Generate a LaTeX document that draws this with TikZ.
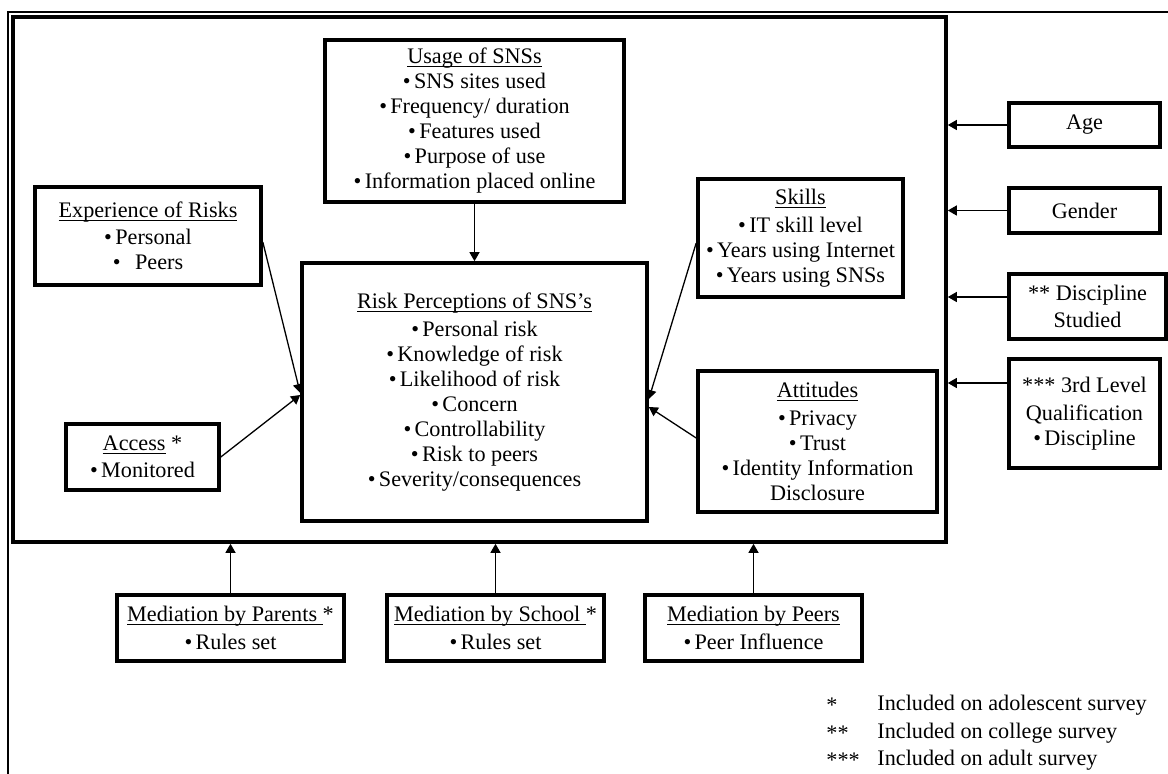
\documentclass[tikz,border=0pt]{standalone}
\usepackage{fontspec}
\setmainfont{Liberation Serif}
\usetikzlibrary{arrows.meta,calc}
\newcommand\ulx[1]{\setbox0\hbox{#1}\rlap{\rule[-1.6pt]{\wd0}{0.5pt}}\box0\relax}
\newcommand\bu{\textbullet\hspace{0.15em}}
\begin{document}
\begin{tikzpicture}[x=0.5pt,y=-0.5pt,
  bx/.style={draw, line width=1.8pt, inner sep=0pt, align=center,
    font=\fontsize{11.1}{12.5}\selectfont},
  arr/.style={line width=0.65pt, -{Triangle[length=4.5pt,width=5pt]}},
  lg/.style={anchor=west, inner sep=0pt, font=\fontsize{11.1}{12.5}\selectfont}]
\useasboundingbox (0,0) rectangle (1168,774);
% thin outer frame (only top and left visible)
\draw[line width=0.75pt] (8,774) -- (8,12) -- (1168,12);
% big box
\node[draw, line width=1.8pt, inner sep=0pt, minimum width=466.5pt, minimum height=262.5pt] (Big) at (479.5,279.5) {};
% inner boxes
\node[bx, minimum width=149.5pt, minimum height=81pt] (Usage) at (474.5,121)
  {\ulx{Usage of SNSs}\\ \bu SNS sites used\\ \bu Frequency/ duration\\ \bu Features used\\ \bu Purpose of use\\ \bu Information placed online};
\node[bx, minimum width=113pt, minimum height=49pt] (Exp) at (148,236)
  {\ulx{Experience of Risks}\\[1.2pt] \bu Personal\\ \bu\ \ Peers};
\node[bx, minimum width=76.5pt, minimum height=33pt] (Access) at (142.5,457)
  {\ulx{Access} *\\[1.2pt] \bu Monitored};
\node[bx, minimum width=172.5pt, minimum height=129pt] (Risk) at (474.5,392)
  {\ulx{Risk Perceptions of SNS’s}\\[1.2pt] \bu Personal risk\\ \bu Knowledge of risk\\ \bu Likelihood of risk\\ \bu Concern\\ \bu Controllability\\ \bu Risk to peers\\ \bu Severity/consequences};
\node[bx, minimum width=102.5pt, minimum height=59pt] (Skills) at (800.5,238)
  {\ulx{Skills}\\[1.2pt] \bu IT skill level\\ \bu Years using Internet\\ \bu Years using SNSs};
\node[bx, minimum width=119.5pt, minimum height=70.5pt] (Att) at (817.5,441.5)
  {\ulx{Attitudes}\\[1.2pt] \bu Privacy\\ \bu Trust\\ \bu Identity Information\\ Disclosure};
% right boxes
\node[bx, minimum width=75.5pt, minimum height=22pt] (Age) at (1084.5,125) {Age};
\node[bx, minimum width=75.5pt, minimum height=22.5pt] (Gender) at (1084.5,210.5) {Gender};
\node[bx, minimum width=78.5pt, minimum height=32.5pt] (Disc) at (1087.5,306.5) {** Discipline\\[1.2pt] Studied};
\node[bx, minimum width=75.5pt, minimum height=54.5pt] (Third) at (1084.5,413.5) {*** 3rd Level\\[1.2pt] Qualification\\ \bu Discipline};
% bottom boxes
\node[bx, minimum width=113.5pt, minimum height=33pt] (Parents) at (230.5,628) {\ulx{Mediation by Parents\ }*\\[1.2pt] \bu Rules set};
\node[bx, minimum width=108.5pt, minimum height=33pt] (School) at (495.5,628) {\ulx{Mediation by School\ }*\\[1.2pt] \bu Rules set};
\node[bx, minimum width=108.5pt, minimum height=33pt] (Peers) at (753.5,628) {\ulx{Mediation by Peers}\\[1.2pt] \bu Peer Influence};
% connectors inside
\draw[arr] (Usage.south) -- (Risk.north);
\coordinate (e1) at ($(Exp.east)+(0,6)$);
\coordinate (r1) at ($(Risk.west)+(0,1)$);
\coordinate (r2) at ($(Risk.west)+(0,3)$);
\draw[arr] (e1) -- (r1);
\draw[arr] (Access.east) -- (r2);
\coordinate (s1) at ($(Skills.west)+(0,5)$);
\coordinate (r3) at ($(Risk.east)+(0,7)$);
\draw[arr] (s1) -- (r3);
\coordinate (a1) at ($(Att.west)+(0,-3.5)$);
\coordinate (r4) at ($(Risk.east)+(0,15)$);
\draw[arr] (a1) -- (r4);
% right arrows
\draw[arr] (Age.west) -- (Age.west -| Big.east);
\draw[arr] (Gender.west) -- (Gender.west -| Big.east);
\coordinate (d1) at ($(Disc.west)+(0,-9.5)$);
\draw[arr] (d1) -- (d1 -| Big.east);
\coordinate (t1) at ($(Third.west)+(0,-30.5)$);
\draw[arr] (t1) -- (t1 -| Big.east);
% bottom arrows
\draw[arr] (Parents.north) -- (Parents.north |- Big.south);
\draw[arr] (School.north) -- (School.north |- Big.south);
\draw[arr] (Peers.north) -- (Peers.north |- Big.south);
% legend
\node[lg] (k1) at (826,705) {*};
\node[lg] (k2) at (826,733) {**};
\node[lg] (k3) at (826,760) {***};
\node[lg] (l1) at (877,705) {Included on adolescent survey};
\node[lg] (l2) at (877,733) {Included on college survey};
\node[lg] (l3) at (877,760) {Included on adult survey};
\end{tikzpicture}
\end{document}
